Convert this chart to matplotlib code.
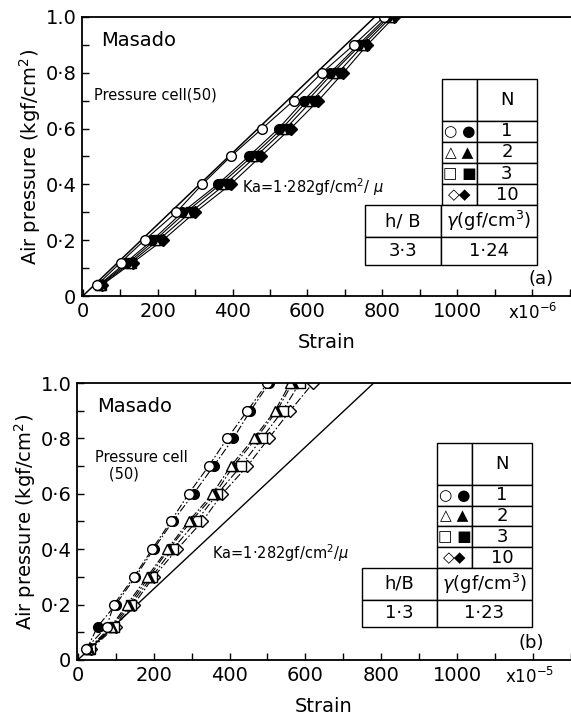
import numpy as np
import matplotlib.pyplot as plt
from matplotlib.ticker import MultipleLocator, FixedLocator

# Air pressure steps (kgf/cm^2), shared by both panels
pressure = [0.04, 0.12, 0.2, 0.3, 0.4, 0.5, 0.6, 0.7, 0.8, 0.9, 1.0]

# Panel (a): strain (x10^-6)
a_circle_open = [39, 101, 165, 250, 319, 395, 479, 563, 639, 724, 804]
a_circle_fill = [44, 115, 186, 266, 360, 443, 523, 590, 661, 736, 812]
a_tri_open = [46, 122, 193, 275, 368, 452, 532, 600, 668, 742, 818]
a_square_fill = [49, 128, 202, 288, 380, 462, 542, 612, 682, 750, 824]
a_diamond_fill = [52, 134, 214, 300, 395, 475, 555, 629, 696, 760, 832]

# Panel (b): strain
b_circle_open = [21, 76, 95, 148, 196, 245, 292, 345, 394, 447, 500]
b_circle_fill = [24, 52, 100, 152, 200, 250, 305, 358, 410, 455, 505]
b_tri_open = [28, 87, 130, 183, 236, 292, 355, 403, 464, 520, 560]
b_tri_fill = [30, 90, 135, 188, 240, 298, 362, 410, 470, 525, 566]
b_square_open = [32, 95, 140, 195, 250, 312, 368, 430, 485, 540, 585]
b_diamond_open = [35, 100, 147, 200, 262, 328, 381, 447, 503, 560, 620]

# Ka line: 1.282 gf/cm^2 per microstrain, capped at 1.0
ka = 1.282
ka_strain = [0, 1000 / ka, 1300]
ka_press = [0, 1.0, 1.0]

legend_rows = [["", "N"], ["○ ●", "1"], ["△ ▲", "2"], ["□ ■", "3"], ["◇◆", "10"]]
table_a = [["h/ B", "$\\gamma$(gf/cm$^3$)"], ["3·3", "1·24"]]
table_b = [["h/B", "$\\gamma$(gf/cm$^3$)"], ["1·3", "1·23"]]

ytick_vals = [0, 0.2, 0.4, 0.6, 0.8, 1.0]
ytick_txt = ["0", "0·2", "0·4", "0·6", "0·8", "1.0"]
xtick_vals = [0, 200, 400, 600, 800, 1000]
xtick_txt = ["0", "200", "400", "600", "800", "1000"]

fig = plt.figure(figsize=(5.71, 7.19), dpi=100)
ax_a = fig.add_axes([0.1436, 0.5883, 0.8564, 0.3881])
ax_b = fig.add_axes([0.1349, 0.0821, 0.8651, 0.3852])


def style_axes(ax, xmax, scale_txt, scale_x, tag, tag_x):
    ax.set_ylim(0, 1.0)
    ax.spines['right'].set_visible(False)
    for s in ax.spines.values():
        s.set_linewidth(1.3)
    ax.xaxis.set_major_locator(FixedLocator(xtick_vals))
    ax.set_xticklabels(xtick_txt)
    ax.xaxis.set_minor_locator(MultipleLocator(100))
    ax.yaxis.set_major_locator(FixedLocator(ytick_vals))
    ax.set_yticklabels(ytick_txt)
    ax.yaxis.set_minor_locator(MultipleLocator(0.1))
    ax.tick_params(which='both', direction='in', length=5, width=1,
                   top=False, right=False, labelsize=14, pad=4)
    ax.set_xlim(-2, xmax)
    ax.set_xlabel("Strain", fontsize=14, labelpad=9)
    ax.set_ylabel("Air pressure (kgf/cm$^2$)", fontsize=14, labelpad=2)
    ax.text(0.04, 0.95, "Masado", transform=ax.transAxes, fontsize=14,
            va='top', ha='left')
    ax.text(scale_x, -0.025, scale_txt, transform=ax.transAxes, fontsize=12,
            va='top', ha='left')
    ax.text(tag_x, 0.03, tag, transform=ax.transAxes, fontsize=13,
            va='bottom', ha='right')


def add_tables(ax, upper_box, lower_box, lower_rows):
    t1 = ax.table(cellText=legend_rows, bbox=upper_box, cellLoc='center')
    t1.auto_set_font_size(False)
    t1.set_fontsize(13)
    for (r, c), cell in t1.get_celld().items():
        cell.set_linewidth(1.0)
        cell.set_width(0.37 if c == 0 else 0.63)
        cell.set_height(2.0 if r == 0 else 1.0)
        if c == 0:
            cell.get_text().set_fontsize(11)
    t2 = ax.table(cellText=lower_rows, bbox=lower_box, cellLoc='center')
    t2.auto_set_font_size(False)
    t2.set_fontsize(13)
    for (r, c), cell in t2.get_celld().items():
        cell.set_linewidth(1.0)
        cell.set_width(0.44 if c == 0 else 0.56)
        cell.set_height(1.15 if r == 0 else 1.0)


# ---- panel (a)
ax = ax_a
ax.plot(ka_strain, ka_press, color='black', lw=1.1)
for xs, mk, fc in [(a_diamond_fill, 'D', 'black'), (a_square_fill, 's', 'black'),
                   (a_tri_open, '^', 'white'), (a_circle_fill, 'o', 'black'),
                   (a_circle_open, 'o', 'white')]:
    ax.plot(xs, pressure, color='black', lw=0.8, marker=mk, ms=7 if mk != 'D' else 6,
            mfc=fc, mec='black', mew=1.0)
ax.text(30, 0.72, "Pressure cell(50)", fontsize=10.5, ha='left', va='center')
ax.text(425, 0.39, "Ka=1·282gf/cm$^2$/ $\\mu$", fontsize=10.5, ha='left', va='center')
style_axes(ax, 1304, "x10$^{-6}$", 0.872, "(a)", 0.965)
add_tables(ax, [0.736, 0.326, 0.194, 0.452], [0.579, 0.111, 0.351, 0.215], table_a)

# ---- panel (b)
ax = ax_b
ax.plot(ka_strain, ka_press, color='black', lw=1.0)
for xs, mk, fc in [(b_diamond_open, 'D', 'white'), (b_square_open, 's', 'white'),
                   (b_tri_fill, '^', 'black'), (b_tri_open, '^', 'white'),
                   (b_circle_fill, 'o', 'black'), (b_circle_open, 'o', 'white')]:
    ax.plot(xs, pressure, color='black', lw=0.8, ls=(0, (7, 2, 1.5, 2)), marker=mk,
            ms=7 if mk != 'D' else 6, mfc=fc, mec='black', mew=1.0)
ax.text(45, 0.70, "Pressure cell\n   (50)", fontsize=10.5, ha='left', va='center',
        linespacing=1.1)
ax.text(355, 0.385, "Ka=1·282gf/cm$^2$/$\\mu$", fontsize=10.5, ha='left', va='center')
style_axes(ax, 1300, "x10$^{-5}$", 0.866, "(b)", 0.945)
add_tables(ax, [0.729, 0.332, 0.192, 0.451], [0.577, 0.119, 0.344, 0.213], table_b)

fig.savefig("out.png", dpi=100)
